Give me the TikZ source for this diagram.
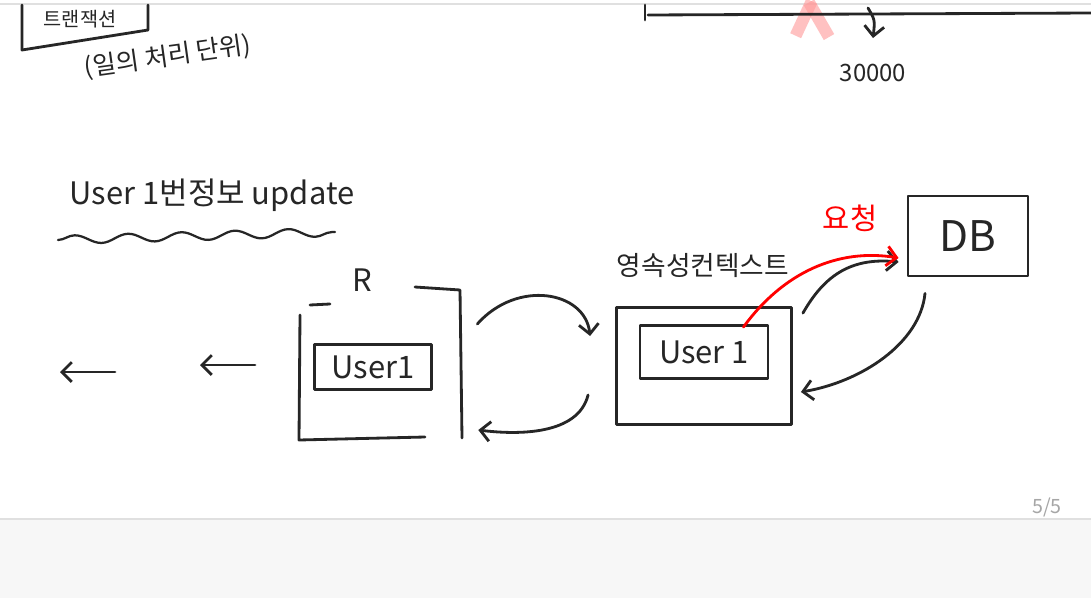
\documentclass[tikz,border=0pt]{standalone}
\usepackage{fontspec}
\setmainfont{Noto Sans CJK KR}
\usetikzlibrary{arrows.meta,decorations.pathmorphing}

\begin{document}
\begin{tikzpicture}[x=0.025cm,y=-0.025cm,>={Straight Barb[length=7pt,width=14pt]},
    pen/.style={line width=2pt,line cap=round,line join=round,black!85},
    redpen/.style={pen,red},
    hand/.style={font=\fontsize{22}{26}\selectfont,black!85,inner sep=0pt},
    box/.style={draw,pen,inner sep=0pt}]
                % Page and toolbar
                \useasboundingbox (0,0) rectangle (1091,598);
                \fill[white] (0,0) rectangle (1091,519);
                \fill[black!3] (0,519) rectangle (1091,598);
                \draw[black!12,line width=1.5pt] (0,519) -- (1091,519);
                \draw[black!12,line width=1pt] (0,4) -- (1091,4);
                \node[font=\fontsize{14}{16}\selectfont,black!35] (page) at (1047,507) {5/5};

                % Top left (transaction note)
                \draw[pen] (22,5) -- (22,50) -- (148,30) -- (148,5);
                \node[hand,font=\fontsize{14}{16}\selectfont] (tx) at (80,19) {트랜잭션};
                \node[hand,font=\fontsize{18}{21}\selectfont,rotate=8] (txnote) at (168,57) {(일의 처리 단위)};

                % Top right (line and 30000)
                \fill[pink!80!red,opacity=0.6,rotate around={-25:(805,18)}] (798,0) rectangle (810,38);
                \fill[pink!80!red,opacity=0.6,rotate around={30:(818,18)}] (812,0) rectangle (824,40);
                \draw[pen] (645,5) -- (645,20);
                \draw[pen] (648,15) -- (1091,13);
                \node[hand,font=\fontsize{17}{20}\selectfont] (num) at (873,73) {30000};
                \draw[pen,->] (868,8) .. controls (875,20) .. (873,38);

                % Title
                \node[hand] (title) at (212,195) {User 1번정보 update};
                \draw[pen,line width=1.6pt,decorate,decoration={snake,amplitude=3pt,segment length=38pt}] (58,240) -- (335,232);

                % Left arrows
                \draw[pen,<-] (60,372) -- (115,372);
                \draw[pen,<-] (200,365) -- (255,365);

                % R box
                \node[minimum width=4.05cm,minimum height=3.75cm] (rbox) at (381,364) {};
                \node[hand] (rlabel) at (362,280) {R};
                \draw[pen] (310,305) -- (330,304);
                \draw[pen] (415,287) -- (460,290) -- (462,438);
                \draw[pen] (300,315) -- (299,440) -- (425,437);
                \node[box,minimum width=2.925cm,minimum height=1.125cm] (user1) at (373,367) {};
                \node[hand] (u1text) at (373,367) {User1};

                % Persistence context
                \node[box,minimum width=4.375cm,minimum height=2.925cm] (pbox) at (704,366) {};
                \node[hand,font=\fontsize{19}{22}\selectfont] (plabel) at (703,265) {영속성컨텍스트};
                \node[box,minimum width=3.2cm,minimum height=1.325cm] (user2) at (704,352) {};
                \node[hand] (u2text) at (704,352) {User 1};

                % DB
                \node[box,minimum width=3cm,minimum height=2cm] (db) at (968,236) {};
                \node[hand,font=\fontsize{30}{34}\selectfont] (dbtext) at (968,236) {DB};

                % Connections
                \draw[pen,->] ([shift={(15,-40)}]rbox.east) .. controls +(40,-45) and +(-5,-45) .. ([shift={(-25,-30)}]pbox.west);
                \draw[pen,->] ([shift={(-27,29)}]pbox.west) .. controls +(-10,40) and +(40,5) .. ([shift={(16,66)}]rbox.east);
                \draw[pen,->] ([shift={(10,7)}]pbox.north east) .. controls +(20,-35) and +(-50,-5) .. ([shift={(-8,26)}]db.west);
                \draw[redpen,->] ([shift={(-26,3)}]user2.north east) .. controls +(40,-55) and +(-60,-10) .. ([shift={(-8,22)}]db.west);
                \node[hand,red,font=\fontsize{21}{24}\selectfont] (req) at (850,218) {요청};
                \draw[pen,->] ([shift={(-43,16)}]db.south) .. controls +(-5,50) and +(60,-10) .. ([shift={(8,26)}]pbox.east);
            \end{tikzpicture}
\end{document}
